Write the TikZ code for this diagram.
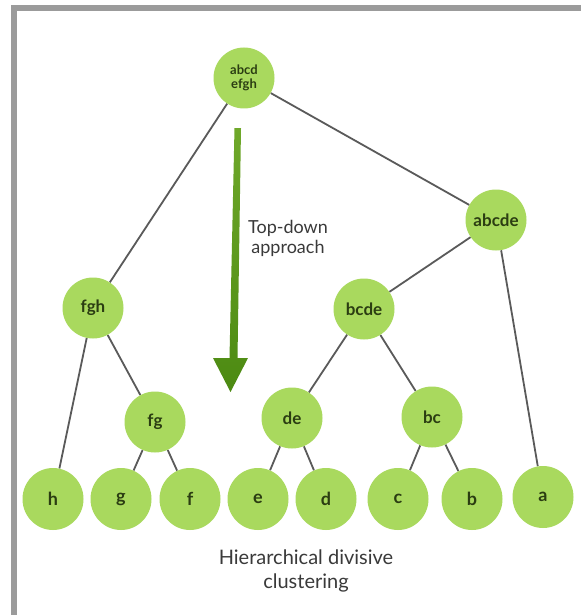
\documentclass[tikz,border=0pt]{standalone}
\usepackage{fontspec}
\setmainfont{Lato}
\usetikzlibrary{shapes.geometric}
\definecolor{nodegreen}{HTML}{A9D95E}
\definecolor{textgreen}{HTML}{2B3D12}
\definecolor{edgegray}{HTML}{5A5A5A}
\definecolor{framegray}{HTML}{9B9B9B}
\definecolor{arrowtop}{HTML}{6FA82A}
\definecolor{arrowbot}{HTML}{4C8A12}
\definecolor{labelgray}{HTML}{3A3A3A}
\pgfdeclarelayer{background}
\pgfsetlayers{background,main}
\tikzset{
  cnode/.style={circle, fill=nodegreen, draw=none, minimum size=61pt, inner sep=0pt,
    text=textgreen, font=\fontsize{17}{18}\selectfont\bfseries},
  rootnode/.style={cnode, align=center, font=\fontsize{13}{13.5}\selectfont\bfseries},
  leaf/.style={cnode, ellipse, minimum width=61pt, minimum height=62pt, font=\fontsize{18}{20}\selectfont\bfseries},
  edge/.style={draw=edgegray, line width=1.8pt},
  lbl/.style={text=labelgray, align=center, font=\fontsize{18}{20}\selectfont},
}
\begin{document}
\begin{tikzpicture}[x=1pt,y=-1pt]
\useasboundingbox (0,0) rectangle (581,615);
% nodes
\node[rootnode] (root) at (244,78) {abcd\\efgh};
\node[cnode] (abcde) at (496,220) {abcde};
\node[cnode] (fgh) at (93,308) {fgh};
\node[cnode] (bcde) at (364,309) {bcde};
\node[cnode] (fg) at (155,422) {fg};
\node[cnode] (de) at (292,418) {de};
\node[cnode] (bc) at (432,417) {bc};
\node[leaf] (h) at (53,499) {h};
\node[leaf] (g) at (121,499) {g};
\node[leaf] (f) at (190,499) {f};
\node[leaf] (e) at (258,499) {e};
\node[leaf] (d) at (326,499) {d};
\node[leaf] (c) at (398,499) {c};
\node[leaf] (b) at (472,499) {b};
\node[leaf] (a) at (543,497) {a};
% background, frame and edges
\begin{pgfonlayer}{background}
\fill[white] (0,0) rectangle (581,615);
\fill[framegray] (11,5) rectangle (581,11);
\fill[framegray] (11,5) rectangle (17,615);
\path[edge] (root) -- (fgh);
\path[edge] (root) -- (abcde);
\path[edge] (abcde) -- (bcde);
\path[edge] (abcde) -- (a);
\path[edge] (fgh) -- (h);
\path[edge] (fgh) -- (fg);
\path[edge] (fg) -- (g);
\path[edge] (fg) -- (f);
\path[edge] (bcde) -- (de);
\path[edge] (bcde) -- (bc);
\path[edge] (de) -- (e);
\path[edge] (de) -- (d);
\path[edge] (bc) -- (c);
\path[edge] (bc) -- (b);
\end{pgfonlayer}
% arrow
\shade[top color=arrowtop, bottom color=arrowbot]
  (234.5,128) -- (241,128) -- (237.5,358) -- (248,358) -- (230.5,392) -- (213,358) -- (229.5,358) -- cycle;
% labels
\node[lbl] (td) at (288,238) {Top-down\\approach};
\node[lbl, font=\fontsize{20}{24}\selectfont] (cap) at (306,571) {Hierarchical divisive\\clustering};
\end{tikzpicture}
\end{document}
